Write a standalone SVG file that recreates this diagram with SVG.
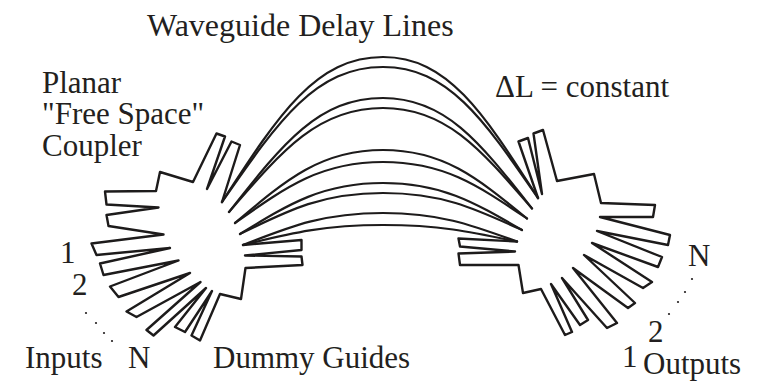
<svg xmlns="http://www.w3.org/2000/svg" width="761" height="385" viewBox="0 0 761 385">
  <style>
    .wg { fill: none; stroke: #1d1b1b; stroke-width: 2.4; stroke-linejoin: round; stroke-linecap: round; }
    .arc { fill: none; stroke: #1d1b1b; stroke-width: 2.2; stroke-linecap: round; }
    .lbl { font-family: "Liberation Serif", "Times New Roman", serif; font-size: 31px; fill: #231f20; }
    .title { font-size: 32px; }
    .dot { fill: #231f20; }
  </style>

  <!-- input-side star coupler with its tapered guides -->
  <g id="left-coupler">
    <path class="wg" d="M222,202 L240,145 L231.5,141.5 L207,189 L225,136.5 L216.5,133.5 L193,182 L160,172 L156,191
      L105,191.5 L106.5,204.5 L158.5,207.5
      L106.5,215 L108.5,226 L163.5,234.5
      L91.5,243.5 L96.5,255 L170,248
      L100,263.5 L103.5,275 L178.5,260.5
      L110,286.5 L118.5,297 L190,273
      L126.5,311.5 L136.5,317 L200.5,282
      L146.5,330 L153.5,335.5 L206,288
      L175,327 L185,332 L212,291
      L191.5,335.5 L200,340.5 L220,294
      L241,299 L245.5,268
      L302.5,265 L301.5,256.5 L245,255.5
      L301.5,250 L301.5,240 L243,245"/>
  </g>

  <!-- output-side star coupler with its tapered guides -->
  <g id="right-coupler">
    <path class="wg" d="M538,198 L518.5,141.5 L528,138 L542,194 L533.5,133.5 L543,130 L557,181 L594,174 L601,203
      L655,205 L653,217 L600,217
      L670,235 L668,245 L597,231
      L662,257 L658,267 L592,243
      L652,282 L643,288 L584,255
      L635,303 L628,308 L573,268
      L617,323 L607,328 L562,278
      L588,320 L580,325 L551,284
      L572,332 L565,335 L541,289
      L523,293 L518.5,265
      L460,265 L458.5,253.5 L515,251.5
      L460,246.5 L458.5,238.5 L517,241.5"/>
  </g>

  <!-- arrayed waveguide delay lines between the couplers -->
  <g id="delay-lines">
    <path class="arc" d="M222,202 C278.4,115 315.4,57 383,57 C448.1,57 483.7,113.4 538,198"/>
    <path class="arc" d="M222,202 C278.4,121 315.4,67 383,67 C448.1,67 483.7,119.4 538,198"/>
    <path class="arc" d="M229,212 C282.9,143.6 318.3,98 383,98 C445.6,98 479.8,142.2 532,208.5"/>
    <path class="arc" d="M229,212 C282.9,149.6 318.3,108 383,108 C445.6,108 479.8,148.2 532,208.5"/>
    <path class="arc" d="M235,223 C286.8,179.2 320.8,150 383,150 C443.5,150 476.6,177.4 527,218.5"/>
    <path class="arc" d="M235,223 C286.8,186.4 320.8,162 383,162 C443.5,162 476.6,184.6 527,218.5"/>
    <path class="arc" d="M240,234 C290,203.4 323,183 383,183 C441.4,183 473.3,201.8 522,230"/>
    <path class="arc" d="M240,234 C290,209.4 323,193 383,193 C441.4,193 473.3,207.8 522,230"/>
    <path class="arc" d="M243,245 C292,225.8 324.2,213 383,213 C439.3,213 470.1,224.4 517,241.5"/>
    <path class="arc" d="M243,245 C292,233 324.2,225 383,225 C439.3,225 470.1,231.6 517,241.5"/>
  </g>

  <g id="labels">
    <text class="lbl title" x="147" y="36">Waveguide Delay Lines</text>
    <text class="lbl" x="42" y="93">Planar</text>
    <text class="lbl" x="42" y="124">"Free Space"</text>
    <text class="lbl" x="42" y="156">Coupler</text>
    <text class="lbl" x="495" y="97">ΔL = constant</text>
    <text class="lbl" x="60" y="263">1</text>
    <text class="lbl" x="72" y="295">2</text>
    <text class="lbl" x="25" y="368">Inputs</text>
    <text class="lbl" x="128" y="368">N</text>
    <text class="lbl" x="213" y="368">Dummy Guides</text>
    <text class="lbl" x="688" y="266">N</text>
    <text class="lbl" x="648" y="342">2</text>
    <text class="lbl" x="622" y="367">1</text>
    <text class="lbl" x="643" y="374">Outputs</text>
    <circle class="dot" cx="86" cy="313" r="1.1"/>
    <circle class="dot" cx="96" cy="323" r="1.1"/>
    <circle class="dot" cx="104" cy="333" r="1.1"/>
    <circle class="dot" cx="112" cy="341" r="1.1"/>
    <circle class="dot" cx="692" cy="279" r="1.1"/>
    <circle class="dot" cx="685" cy="292" r="1.1"/>
    <circle class="dot" cx="678" cy="302" r="1.1"/>
    <circle class="dot" cx="669" cy="314" r="1.1"/>
  </g>
</svg>
